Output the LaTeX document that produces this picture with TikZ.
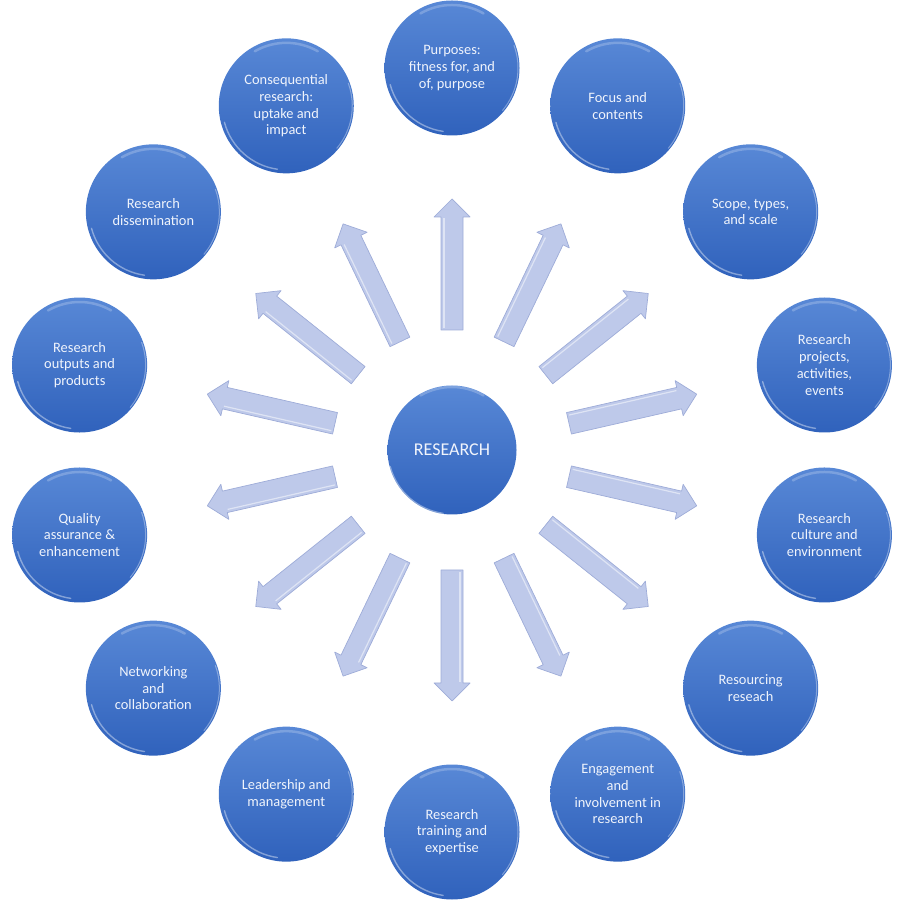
\documentclass[tikz,border=0pt]{standalone}
\usepackage{fontspec}
\setmainfont{Carlito}
\definecolor{balltop}{RGB}{88,136,214}
\definecolor{ballbot}{RGB}{48,98,188}
\definecolor{arrowfill}{RGB}{190,201,234}
\definecolor{arrowedge}{RGB}{158,172,216}
\definecolor{balltext}{RGB}{240,244,252}
\tikzset{
  ball/.style={circle, minimum size=135pt, inner sep=0pt, top color=balltop, bottom color=ballbot,
    draw=none, text=balltext, align=center, font=\fontsize{14.4}{16.8}\selectfont,
    path picture={
      \draw[white, opacity=0.4, line width=1.4pt, line cap=round]
        ([shift={(195:64pt)}]path picture bounding box.center) arc[start angle=195, end angle=262, radius=64pt];
      \draw[white, opacity=0.22, line width=2.5pt, line cap=round]
        ([shift={(60:63pt)}]path picture bounding box.center) arc[start angle=60, end angle=120, radius=63pt];
      \draw[white, opacity=0.35, line width=1pt, line cap=round]
        ([shift={(-40:66pt)}]path picture bounding box.center) arc[start angle=-40, end angle=20, radius=66pt];
    }},
  hub/.style={ball, minimum size=129pt, font=\fontsize{18}{21}\selectfont},
  blockarrow/.style={fill=arrowfill, draw=arrowedge, line width=0.7pt, line join=round}
}
\begin{document}
\begin{tikzpicture}[x=1pt,y=1pt]
\useasboundingbox (0,0) rectangle (904,902);
\coordinate (O) at (452,452);
% arrows
\foreach \i in {0,...,13}{
  \pgfmathsetmacro\ang{90-\i*360/14}
  \begin{scope}[shift={(O)}, rotate=\ang]
    \draw[blockarrow] (120,-11) -- (233,-11) -- (233,-18) -- (251,0) -- (233,18) -- (233,11) -- (120,11) -- cycle;
    \draw[white, opacity=0.5, line width=1.2pt] (122,8) -- (232,8);
  \end{scope}
}
\node[hub] (hub) at (O) {RESEARCH};
\foreach \txt [count=\i from 0] in {
  {Purposes:\\fitness for, and\\of, purpose},
  {Focus and\\contents},
  {Scope, types,\\and scale},
  {Research\\projects,\\activities,\\events},
  {Research\\culture and\\environment},
  {Resourcing\\reseach},
  {Engagement\\and\\involvement in\\research},
  {Research\\training and\\expertise},
  {Leadership and\\management},
  {Networking\\and\\collaboration},
  {Quality\\assurance \&\\enhancement},
  {Research\\outputs and\\products},
  {Research\\dissemination},
  {Consequential\\research:\\uptake and\\impact}}{
  \pgfmathsetmacro\ang{90-\i*360/14}
  \node[ball] (c\i) at ([shift={(\ang:382pt)}]O) {\txt};
}
\end{tikzpicture}
\end{document}
